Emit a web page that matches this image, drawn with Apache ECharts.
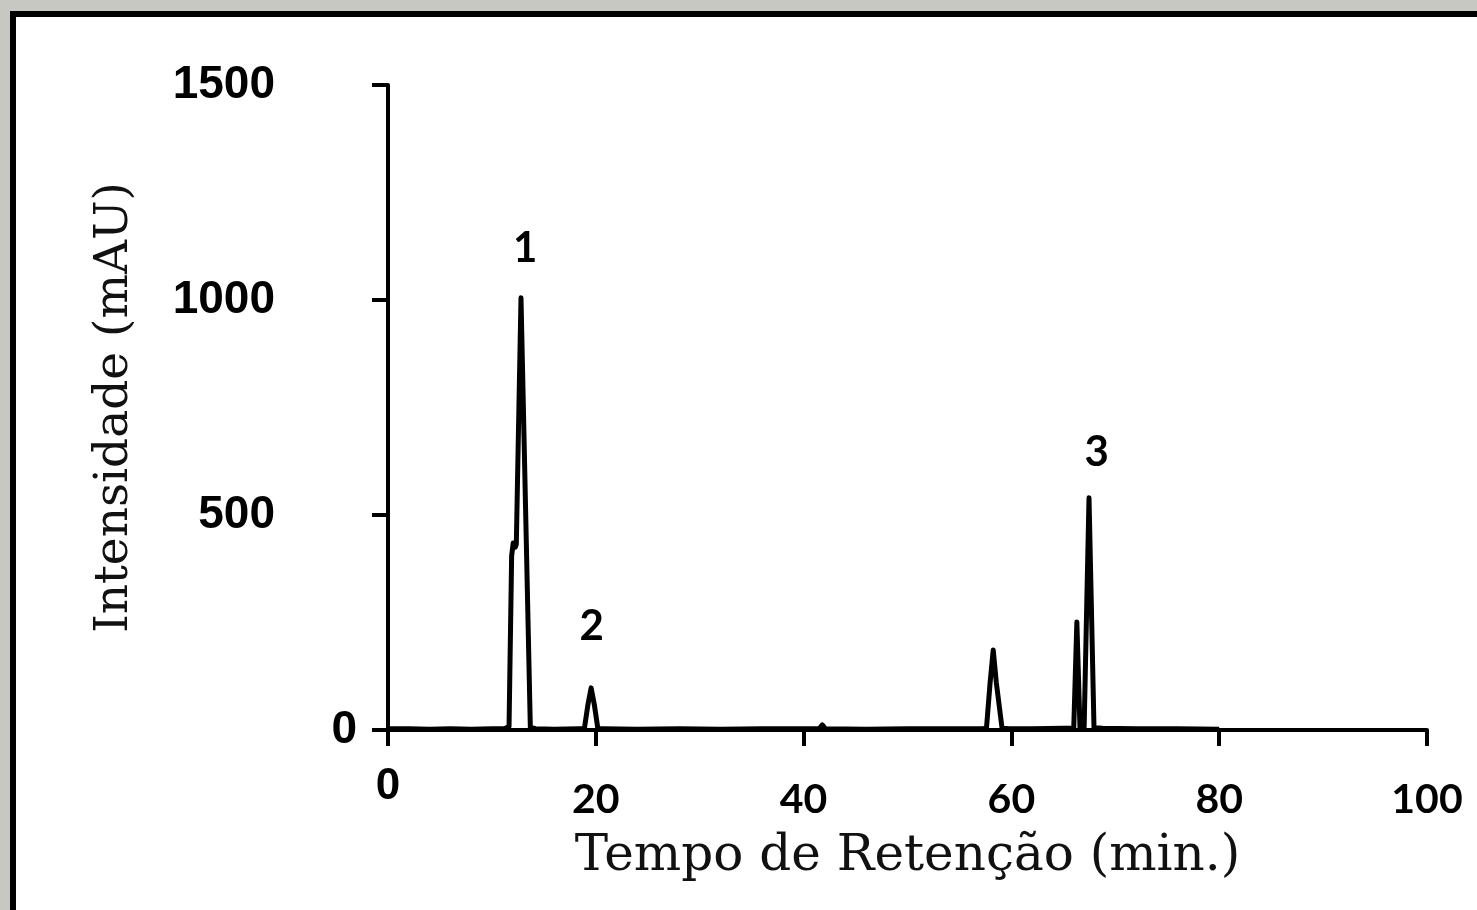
<!DOCTYPE html>
<html>
<head>
<meta charset="utf-8">
<script src="https://cdn.jsdelivr.net/npm/echarts@6/dist/echarts.min.js"></script>
<style>
  html, body { margin: 0; padding: 0; background: #c8c8c3; }
  #chart { width: 1477px; height: 910px; }
</style>
</head>
<body>
<div id="chart"></div>
<script>
// retention time (min) and detector signal (mAU)
var retentionTime = [0, 2, 4, 6, 8, 10, 11.2, 11.65, 11.9, 12.05, 12.25, 12.35, 12.8, 13.7, 14.2,
  16, 18.4, 18.9, 19.25, 19.55, 19.85, 20.2, 20.7, 24, 28, 32, 36, 40, 41.5, 41.8, 42.1,
  46, 50, 54, 57.2, 57.6, 57.95, 58.25, 58.55, 59.1, 59.8, 62, 65, 66.0, 66.3, 66.6,
  67.0, 67.47, 67.95, 68.8, 72, 76, 80];
var intensity = [3, 3, 2, 3, 2, 3, 3, 8, 405, 435, 425, 432, 1005, 6, 3,
  2, 3, 3, 60, 98, 60, 3, 3, 2, 3, 2, 3, 3, 3, 12, 3,
  2, 3, 3, 3, 4, 110, 186, 110, 4, 3, 3, 4, 4, 251, 5,
  5, 540, 5, 4, 3, 3, 2];

// peak numbers written above the peaks
var peakNames = ['1', '2', '3'];
var peakLabelTime = [13.2, 19.6, 68.2];
var peakLabelY = [1120, 240, 645];

var xTicks = [0, 20, 40, 60, 80, 100];
var yTicks = [0, 500, 1000, 1500];

var chartDom = document.getElementById('chart');
var myChart = echarts.init(chartDom);

var seriesData = retentionTime.map(function (t, i) { return [t, intensity[i]]; });
var peakData = peakNames.map(function (n, i) {
  return { name: n, value: [peakLabelTime[i], peakLabelY[i]] };
});

var axisStroke = { color: '#000', width: 4 };

var option = {
  backgroundColor: 'transparent',
  animation: false,
  graphic: [
    {
      type: 'rect',
      z: -10,
      shape: { x: 13, y: 14, width: 1600, height: 1000 },
      style: { fill: '#fff', stroke: '#000', lineWidth: 6 }
    }
  ],
  grid: { left: 388, right: 50, top: 85, bottom: 180 },
  xAxis: {
    type: 'value',
    min: xTicks[0],
    max: xTicks[xTicks.length - 1],
    interval: 20,
    splitLine: { show: false },
    axisLine: { lineStyle: axisStroke },
    axisTick: { length: 16, lineStyle: axisStroke },
    axisLabel: {
      margin: 35,
      formatter: function (v) { return v === 0 ? '{z|0}' : '{n|' + v + '}'; },
      rich: {
        z: { fontFamily: 'Liberation Sans', fontWeight: 'bold', fontSize: 44, color: '#000' },
        n: { fontFamily: 'Lato', fontWeight: 'bold', fontSize: 41, color: '#000', padding: [14, 0, 0, 0] }
      }
    },
    name: 'Tempo de Retenção (min.)',
    nameLocation: 'middle',
    nameGap: 102,
    nameTextStyle: { fontFamily: 'DejaVu Serif', fontSize: 50, color: '#111' }
  },
  yAxis: {
    type: 'value',
    min: yTicks[0],
    max: yTicks[yTicks.length - 1],
    interval: 500,
    splitLine: { show: false },
    axisLine: { lineStyle: axisStroke },
    axisTick: { length: 16, lineStyle: axisStroke },
    axisLabel: {
      margin: 31,
      formatter: function (v) { return v === 0 ? '{z|0}' : '{n|' + v + '}'; },
      rich: {
        z: { fontFamily: 'Liberation Sans', fontWeight: 'bold', fontSize: 46, color: '#000' },
        n: { fontFamily: 'Liberation Sans', fontWeight: 'bold', fontSize: 46, color: '#000', padding: [0, 82, 0, 0] }
      }
    },
    name: 'Intensidade (mAU)',
    nameLocation: 'middle',
    nameGap: 250,
    nameTextStyle: { fontFamily: 'DejaVu Serif', fontSize: 47, color: '#111' }
  },
  series: [
    {
      name: 'sinal',
      type: 'line',
      data: seriesData,
      showSymbol: false,
      symbol: 'none',
      lineStyle: { color: '#000', width: 5, join: 'round' },
      z: 3
    },
    {
      name: 'picos',
      type: 'scatter',
      data: peakData,
      symbolSize: 0,
      itemStyle: { opacity: 1, color: '#000' },
      label: {
        show: true,
        position: 'inside',
        formatter: '{b}',
        fontFamily: 'Lato',
        fontWeight: 'bold',
        fontSize: 42,
        color: '#000',
        opacity: 1,
        textBorderWidth: 0
      },
      z: 4
    }
  ]
};

option && myChart.setOption(option);
</script>
</body>
</html>
